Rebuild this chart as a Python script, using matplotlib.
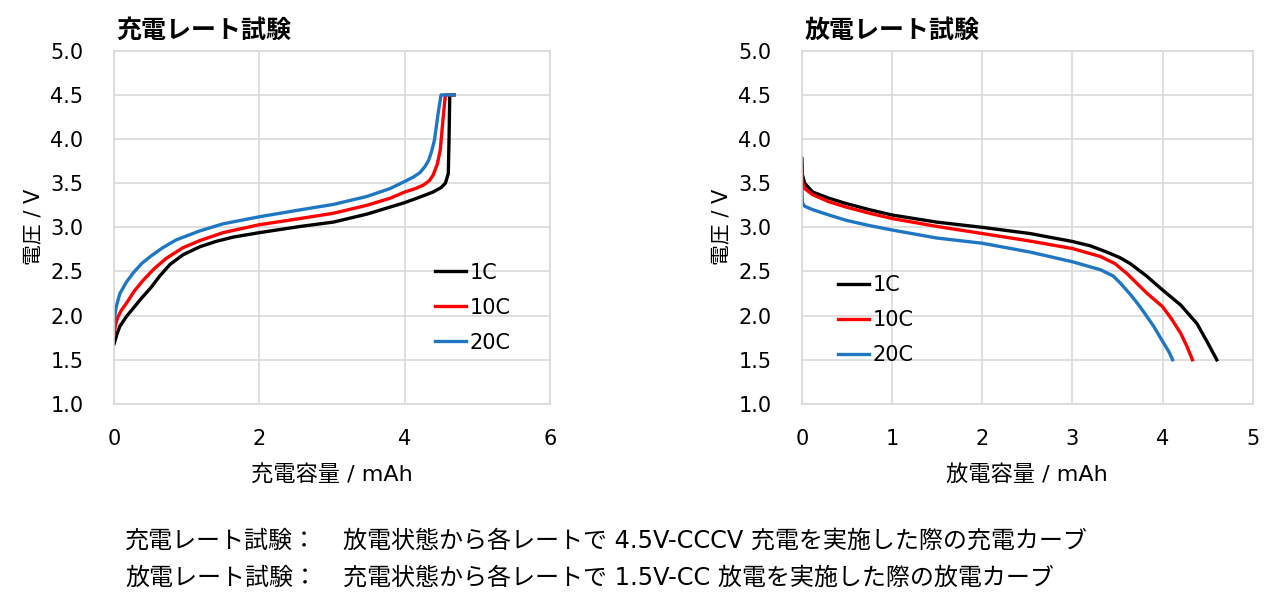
import numpy as np
import matplotlib
matplotlib.use("Agg")
import matplotlib.pyplot as plt

plt.rcParams['font.family'] = ['DejaVu Sans', 'Noto Sans CJK JP']

# =========================
# Data
# =========================
rates = ['1C', '10C', '20C']
colors = ['#000000', '#ff0000', '#1f77c4']

# charge curves (capacity mAh, voltage V)
chg_x_1c = [0, 0.04, 0.08, 0.17, 0.27, 0.38, 0.5, 0.63, 0.77, 0.95, 1.18, 1.4, 1.64, 2.0, 2.56, 3.02, 3.48, 3.8, 4.0, 4.2, 4.39, 4.50, 4.56, 4.60, 4.61, 4.62, 4.68]
chg_y_1c = [1.68, 1.79, 1.88, 1.99, 2.09, 2.20, 2.31, 2.45, 2.58, 2.69, 2.78, 2.84, 2.89, 2.94, 3.01, 3.06, 3.15, 3.23, 3.28, 3.34, 3.40, 3.45, 3.50, 3.61, 3.99, 4.5, 4.5]
chg_x_10c = [0, 0.02, 0.05, 0.1, 0.17, 0.28, 0.40, 0.55, 0.72, 0.95, 1.18, 1.5, 2.0, 2.56, 3.02, 3.48, 3.8, 4.0, 4.15, 4.26, 4.34, 4.39, 4.45, 4.49, 4.53, 4.56, 4.65]
chg_y_10c = [1.78, 1.90, 1.98, 2.06, 2.14, 2.28, 2.40, 2.53, 2.65, 2.77, 2.85, 2.94, 3.03, 3.10, 3.16, 3.25, 3.33, 3.40, 3.44, 3.48, 3.53, 3.59, 3.72, 3.88, 4.25, 4.5, 4.5]
chg_x_20c = [0, 0.01, 0.03, 0.08, 0.17, 0.27, 0.38, 0.5, 0.67, 0.86, 1.18, 1.5, 2.0, 2.5, 3.02, 3.48, 3.8, 4.0, 4.12, 4.21, 4.28, 4.33, 4.37, 4.41, 4.46, 4.50, 4.68]
chg_y_20c = [1.85, 2.0, 2.10, 2.25, 2.38, 2.49, 2.59, 2.67, 2.77, 2.86, 2.96, 3.04, 3.12, 3.19, 3.26, 3.35, 3.44, 3.52, 3.57, 3.62, 3.69, 3.76, 3.86, 3.99, 4.29, 4.5, 4.5]

# discharge curves
dis_x_1c = [0, 0.005, 0.03, 0.12, 0.3, 0.49, 0.75, 1.0, 1.49, 2.0, 2.53, 3.0, 3.2, 3.38, 3.52, 3.64, 3.82, 4.0, 4.2, 4.38, 4.49, 4.6]
dis_y_1c = [3.78, 3.6, 3.50, 3.40, 3.33, 3.27, 3.20, 3.14, 3.06, 3.0, 2.93, 2.84, 2.79, 2.72, 2.66, 2.59, 2.45, 2.29, 2.12, 1.91, 1.71, 1.5]
dis_x_10c = [0, 0.005, 0.03, 0.12, 0.3, 0.49, 0.75, 1.0, 1.5, 2.0, 2.5, 3.0, 3.31, 3.47, 3.6, 3.83, 4.0, 4.1, 4.2, 4.27, 4.33]
dis_y_10c = [3.67, 3.52, 3.44, 3.37, 3.29, 3.23, 3.16, 3.10, 3.01, 2.93, 2.85, 2.76, 2.67, 2.59, 2.48, 2.25, 2.10, 1.96, 1.80, 1.65, 1.5]
dis_x_20c = [0, 0.005, 0.03, 0.12, 0.3, 0.49, 0.75, 1.0, 1.49, 2.0, 2.53, 3.0, 3.31, 3.45, 3.53, 3.65, 3.75, 3.9, 4.01, 4.07, 4.11]
dis_y_20c = [3.45, 3.28, 3.24, 3.20, 3.14, 3.08, 3.02, 2.97, 2.88, 2.82, 2.72, 2.61, 2.52, 2.45, 2.37, 2.23, 2.10, 1.88, 1.69, 1.59, 1.5]

chg_curves = [(chg_x_1c, chg_y_1c), (chg_x_10c, chg_y_10c), (chg_x_20c, chg_y_20c)]
dis_curves = [(dis_x_1c, dis_y_1c), (dis_x_10c, dis_y_10c), (dis_x_20c, dis_y_20c)]

titles = ['充電レート試験', '放電レート試験']
xlabels = ['充電容量 / mAh', '放電容量 / mAh']
ylabel = '電圧 / V'
notes = [('充電レート試験：', '放電状態から各レートで 4.5V-CCCV 充電を実施した際の充電カーブ'),
         ('放電レート試験：', '充電状態から各レートで 1.5V-CC 放電を実施した際の放電カーブ')]

# =========================
# Figure
# =========================
fig = plt.figure(figsize=(12.83, 6.12), dpi=100)
ax1 = fig.add_axes([0.0889, 0.340, 0.3398, 0.577])
ax2 = fig.add_axes([0.625, 0.340, 0.3515, 0.577])

grid_col = '#d9d9d9'


def style_axis(ax, xmax, xstep, title, xlabel):
    ax.set_xlim(0, xmax)
    ax.set_ylim(1.0, 5.0)
    ax.set_xticks(np.arange(0, xmax + 0.01, xstep))
    ax.set_yticks(np.arange(1.0, 5.01, 0.5))
    ax.yaxis.set_major_formatter(matplotlib.ticker.FormatStrFormatter('%.1f'))
    ax.grid(True, color=grid_col, linewidth=1.2)
    ax.set_axisbelow(True)
    for s in ax.spines.values():
        s.set_color(grid_col)
        s.set_linewidth(1.2)
    ax.tick_params(axis='x', length=0, pad=18, labelsize=15)
    ax.tick_params(axis='y', length=0, pad=22, labelsize=15)
    ax.set_title(title, loc='left', fontsize=18, fontweight='bold', pad=9, x=0.006)
    ax.set_xlabel(xlabel, fontsize=16, labelpad=11)
    ax.set_ylabel(ylabel, fontsize=15, labelpad=5)


style_axis(ax1, 6, 2, titles[0], xlabels[0])
style_axis(ax2, 5, 1, titles[1], xlabels[1])

for (x, y), c, r in zip(chg_curves, colors, rates):
    ax1.plot(x, y, color=c, linewidth=2.4, label=r, solid_joinstyle='round')
for (x, y), c, r in zip(dis_curves, colors, rates):
    ax2.plot(x, y, color=c, linewidth=2.4, label=r, solid_joinstyle='round')

leg_kw = dict(frameon=False, fontsize=15, handlelength=1.5, handletextpad=0.15,
              labelspacing=0.72, borderpad=0, borderaxespad=0, loc='upper left')
ax1.legend(bbox_to_anchor=(0.736, 0.40), **leg_kw)
ax2.legend(bbox_to_anchor=(0.08, 0.365), **leg_kw)

# notes below the charts
for i, (head, body) in enumerate(notes):
    yy = 0.116 - i * 0.0605
    fig.text(0.0974, yy, head, fontsize=17.3, va='center')
    fig.text(0.267, yy, body, fontsize=17.3, va='center')

fig.savefig('out.png', dpi=100)
